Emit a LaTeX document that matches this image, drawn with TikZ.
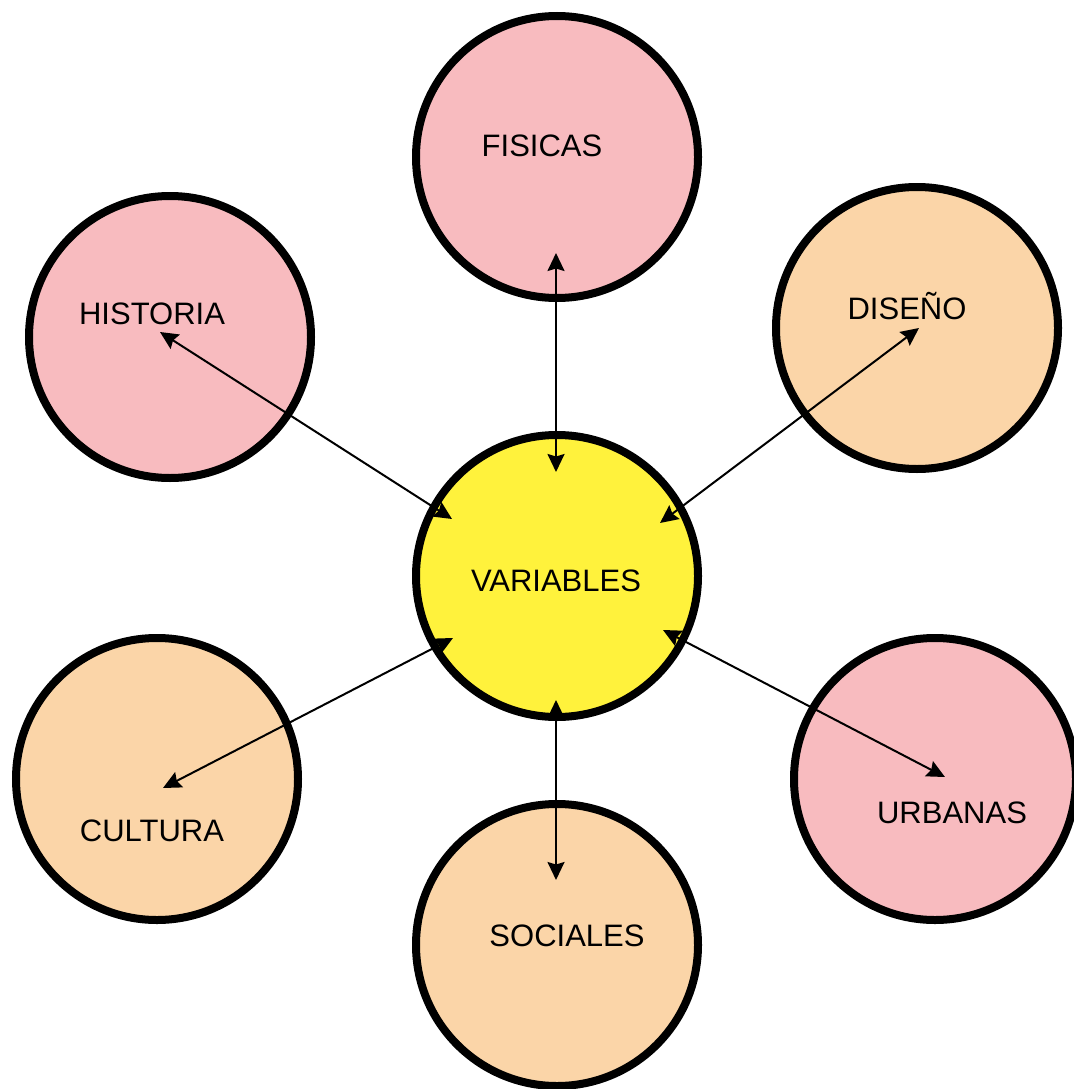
\documentclass[tikz,border=0pt]{standalone}
\usepackage{fontspec}
\setmainfont{Liberation Sans}
\usetikzlibrary{arrows.meta}
\definecolor{pinkf}{HTML}{F8BBBF}
\definecolor{peachf}{HTML}{FBD5A8}
\definecolor{yellowf}{HTML}{FFF23C}
\begin{document}
\begin{tikzpicture}[x=1pt,y=-1pt,
  bub/.style={circle, draw=black, line width=8pt, minimum size=282pt, inner sep=0pt},
  lbl/.style={anchor=base, font=\fontsize{31}{31}\selectfont, text=black, inner sep=0pt},
  link/.style={line width=2pt, black, {Stealth[length=18pt,width=17pt,inset=2.5pt,fill=black]}-{Stealth[length=18pt,width=17pt,inset=2.5pt,fill=black]}}]
\useasboundingbox (0,0) rectangle (1073,1089);
% circles
\node[bub, fill=pinkf]   (fis) at (557,157) {};
\node[bub, fill=pinkf]   (his) at (170,337) {};
\node[bub, fill=peachf]  (dis) at (917,328) {};
\node[bub, fill=peachf]  (cul) at (157,779) {};
\node[bub, fill=pinkf]   (urb) at (935,779) {};
\node[bub, fill=peachf]  (soc) at (557,945) {};
\node[bub, fill=yellowf] (var) at (557,576) {};
% labels
\node[lbl] (tfis) at (542,156) {FISICAS};
\node[lbl] (this) at (152,324) {HISTORIA};
\node[lbl] (tdis) at (907,319) {DISEÑO};
\node[lbl] (tcul) at (152,841) {CULTURA};
\node[lbl] (turb) at (952,823) {URBANAS};
\node[lbl] (tsoc) at (567,946) {SOCIALES};
\node[lbl] (tvar) at (556,591) {VARIABLES};
% arrow end points
\coordinate (pfis) at (556,253);
\coordinate (vfis) at (556,472);
\coordinate (phis) at (160,332);
\coordinate (vhis) at (452,519);
\coordinate (pdis) at (919,328);
\coordinate (vdis) at (660,523);
\coordinate (pcul) at (163,788);
\coordinate (vcul) at (453,638);
\coordinate (purb) at (945,777);
\coordinate (vurb) at (663,630);
\coordinate (psoc) at (556,880);
\coordinate (vsoc) at (556,700);
% connectors
\draw[link] (pfis) -- (vfis);
\draw[link] (phis) -- (vhis);
\draw[link] (pdis) -- (vdis);
\draw[link] (pcul) -- (vcul);
\draw[link] (purb) -- (vurb);
\draw[link] (psoc) -- (vsoc);
\end{tikzpicture}
\end{document}
